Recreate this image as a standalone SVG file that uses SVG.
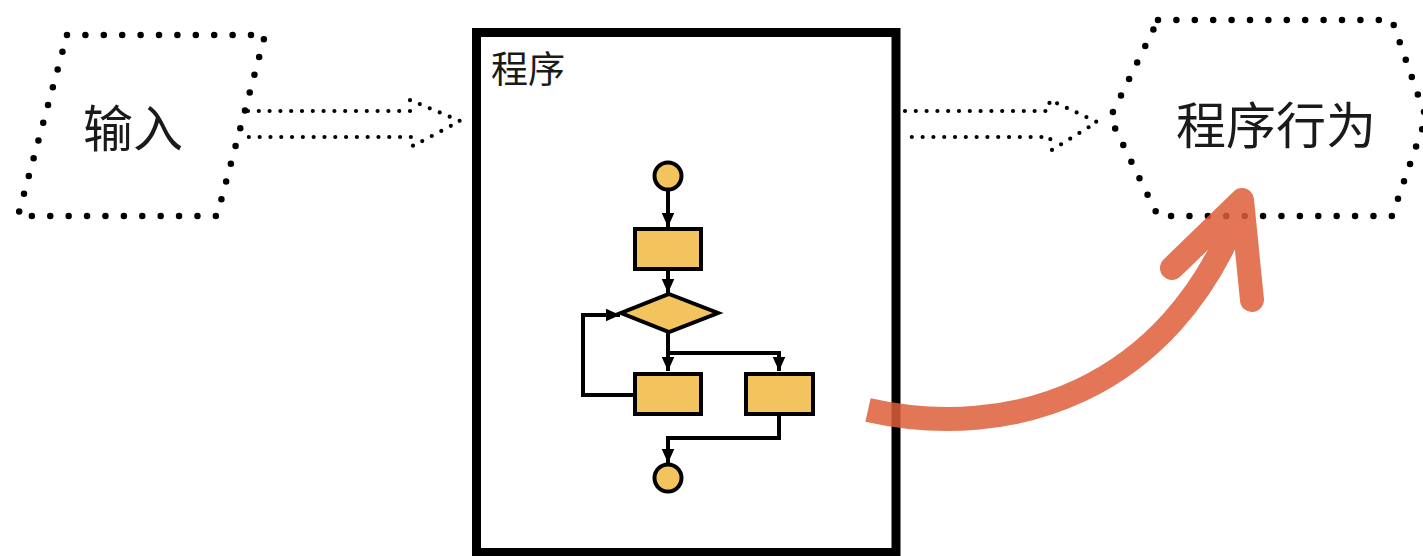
<svg xmlns="http://www.w3.org/2000/svg" width="1423" height="556" viewBox="0 0 1423 556">
  <style>
    .dotted-big { fill: none; stroke: #000; stroke-width: 6.5; stroke-linecap: round; stroke-dasharray: 0 18.4; }
    .dotted-small { fill: none; stroke: #000; stroke-width: 4.2; stroke-linecap: round; stroke-dasharray: 0 10.8; stroke-linejoin: round; }
    .label { font-family: "Noto Sans CJK SC", "Noto Sans", sans-serif; fill: #1a1a1a; }
    .fc-shape { fill: #F3C45E; stroke: #000; stroke-width: 4; }
    .fc-line { fill: none; stroke: #000; stroke-width: 4; }
  </style>
  <defs>
    <marker id="fc-arrow" viewBox="0 0 10 10" refX="10" refY="5" markerWidth="14" markerHeight="14" markerUnits="userSpaceOnUse" orient="auto">
      <path d="M0,0.5 L10,5 L0,9.5 z" fill="#000"/>
    </marker>
  </defs>

  <rect width="1423" height="556" fill="#fff"/>

  <!-- input: dotted parallelogram -->
  <g id="input">
    <path class="dotted-big" d="M67,35 L265,35 L217,216 L18,216 Z"/>
    <text class="label" x="133" y="125" font-size="50" text-anchor="middle" dominant-baseline="central">输入</text>
  </g>

  <!-- program box with its flowchart -->
  <g id="program">
    <rect x="476.5" y="32.5" width="419.5" height="520" fill="#fff" stroke="#000" stroke-width="9"/>
    <text class="label" x="491" y="67" font-size="37" dominant-baseline="central">程序</text>

    <g id="flowchart">
      <g class="fc-lines">
        <line class="fc-line" x1="668" y1="190" x2="668" y2="227" marker-end="url(#fc-arrow)"/>
        <line class="fc-line" x1="668" y1="271" x2="668" y2="293" marker-end="url(#fc-arrow)"/>
        <polyline class="fc-line" points="668,333 668,371" marker-end="url(#fc-arrow)"/>
        <polyline class="fc-line" points="668,353 779,353 779,371" marker-end="url(#fc-arrow)"/>
        <polyline class="fc-line" points="635,395 583,395 583,315 620,315" marker-end="url(#fc-arrow)"/>
        <polyline class="fc-line" points="779,416 779,438 668,438 668,463" marker-end="url(#fc-arrow)"/>
      </g>
      <circle class="fc-shape" cx="668" cy="176" r="13.5"/>
      <rect class="fc-shape" x="635" y="229" width="66" height="40"/>
      <polygon class="fc-shape" points="669,294 718,313 669,332 621,313"/>
      <rect class="fc-shape" x="635" y="374" width="66" height="40"/>
      <rect class="fc-shape" x="746" y="374" width="67" height="40"/>
      <circle class="fc-shape" cx="668" cy="478" r="13.5"/>
    </g>
  </g>

  <!-- program behaviour: dotted hexagon -->
  <g id="behavior">
    <path class="dotted-big" d="M1158,20 L1392,20 L1426,118 L1392,216 L1158,216 L1110,118 Z"/>
    <text class="label" x="1276" y="122" font-size="50" text-anchor="middle" dominant-baseline="central">程序行为</text>
  </g>

  <!-- connectors -->
  <g id="connectors">
    <path class="dotted-small" d="M248,111 L410,111 L410,100 L460,121 L413,146 L413,137 L248,137"/>
    <path class="dotted-small" d="M905,111 L1048,111 L1050,100 L1097,122 L1052,150 L1050,137 L905,137"/>
    <g id="behavior-arrow" opacity="0.85" fill="none" stroke="#DD5F3A" stroke-width="24" stroke-linejoin="round">
      <path d="M868,410 C1010,442 1170,392 1240,208" stroke-linecap="butt"/>
      <path d="M1172,268 L1242,200 L1252,300" stroke-linecap="round"/>
    </g>
  </g>
</svg>
